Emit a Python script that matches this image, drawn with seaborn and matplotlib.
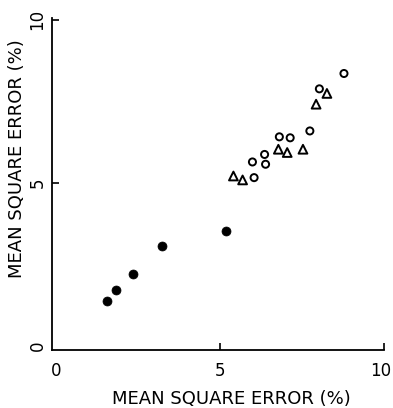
import matplotlib
matplotlib.use("Agg")
import matplotlib.pyplot as plt
import matplotlib.transforms as mtransforms
import seaborn as sns
import pandas as pd

# Data
filled_x = [1.56, 1.83, 2.34, 3.24, 5.18]
filled_y = [1.38, 1.72, 2.21, 3.06, 3.53]

circle_x = [8.78, 8.03, 7.74, 6.81, 7.14, 6.36, 6.39, 5.99, 6.04]
circle_y = [8.35, 7.88, 6.59, 6.41, 6.38, 5.87, 5.57, 5.64, 5.16]

tri_x = [8.26, 7.93, 6.78, 7.05, 7.53, 5.41, 5.69]
tri_y = [7.74, 7.41, 6.03, 5.93, 6.03, 5.21, 5.09]

tick_vals = [0, 5, 10]
tick_labels = ["0", "5", "10"]
axis_label = "MEAN SQUARE ERROR (%)"

sns.set_style("ticks")
plt.rcParams["font.family"] = ["DejaVu Sans"]
plt.rcParams["text.color"] = "black"
plt.rcParams["axes.labelcolor"] = "black"
plt.rcParams["xtick.color"] = "black"
plt.rcParams["ytick.color"] = "black"

fig = plt.figure(figsize=(3.93, 4.08), dpi=100)
ax = fig.add_axes([52 / 393, 1 - 350 / 408, (384 - 52) / 393, (350 - 18) / 408])

df_f = pd.DataFrame({"x": filled_x, "y": filled_y})
df_c = pd.DataFrame({"x": circle_x, "y": circle_y})
df_t = pd.DataFrame({"x": tri_x, "y": tri_y})

sns.scatterplot(data=df_f, x="x", y="y", ax=ax, marker="o", s=42,
                color="black", edgecolor="black", linewidth=0.5)
sns.scatterplot(data=df_c, x="x", y="y", ax=ax, marker="o", s=26,
                facecolor="none", edgecolor="black", linewidth=1.4)
sns.scatterplot(data=df_t, x="x", y="y", ax=ax, marker="^", s=40,
                facecolor="none", edgecolor="black", linewidth=1.4)

ax.set_xlim(-0.12, 10)
ax.set_ylim(-0.12, 10.05)
ax.set_xticks(tick_vals)
ax.set_xticklabels(tick_labels, fontsize=12)
ax.set_yticks(tick_vals)
ax.set_yticklabels(tick_labels, fontsize=12, rotation=90, va="center")
ax.tick_params(direction="in", length=5, width=1.2, color="black", labelcolor="black")
ax.tick_params(axis="x", pad=9)
ax.tick_params(axis="y", pad=4)
# hide tick marks at the origin
ax.xaxis.get_major_ticks()[0].tick1line.set_visible(False)
ax.yaxis.get_major_ticks()[0].tick1line.set_visible(False)
# keep the "10" label inside the figure
last = ax.get_xticklabels()[-1]
last.set_ha("right")
last.set_transform(last.get_transform() +
                   mtransforms.ScaledTranslation(7 / 100, 0, fig.dpi_scale_trans))
sns.despine(ax=ax)
for s in ["left", "bottom"]:
    ax.spines[s].set_linewidth(1.3)
    ax.spines[s].set_color("black")

ax.set_xlabel(axis_label, fontsize=13, va="center")
ax.set_ylabel(axis_label, fontsize=13, va="center")
ax.xaxis.set_label_coords(0.539, -0.148)
ax.yaxis.set_label_coords(-0.105, 0.576)

fig.savefig("out.png", dpi=100)
